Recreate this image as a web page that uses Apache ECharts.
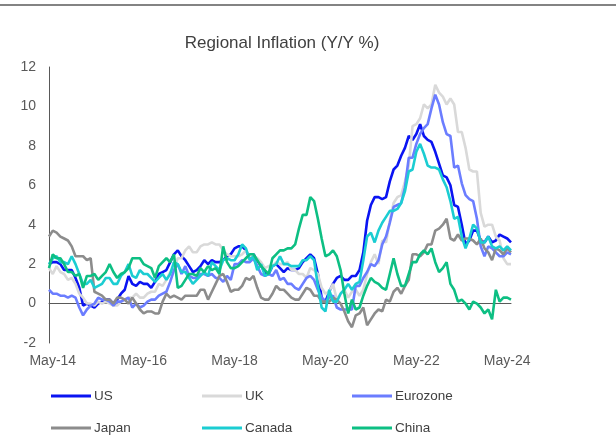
<!DOCTYPE html>
<html lang="en">
<head>
    <meta charset="UTF-8">
    <title>Regional Inflation</title>
    <script src="https://cdn.jsdelivr.net/npm/echarts@6/dist/echarts.min.js"></script>
    <style type="text/css">
        html, body { margin: 0; padding: 0; background: #ffffff; }
        #chart { width: 616px; height: 436px; }
    </style>
</head>
<body>
<div id="chart"></div>
<script type="text/javascript">
    // months Apr-14 .. Jun-24
    var monthNames = ['Jan','Feb','Mar','Apr','May','Jun','Jul','Aug','Sep','Oct','Nov','Dec'];
    var months = [];
    for (var y = 14; y <= 24; y++) {
        for (var m = 0; m < 12; m++) {
            if (y === 14 && m < 3) continue;
            if (y === 24 && m > 5) break;
            months.push(monthNames[m] + '-' + y);
        }
    }

    var us = [2.0, 2.1, 2.1, 2.0, 1.7, 1.7, 1.7, 1.3, 0.8,
        -0.1, 0.0, -0.1, -0.2, 0.0, 0.1, 0.2, 0.2, 0.0, 0.2, 0.5, 0.7,
        1.4, 1.0, 0.9, 1.1, 1.0, 1.0, 0.8, 1.1, 1.5, 1.6, 1.7, 2.1,
        2.5, 2.7, 2.4, 2.2, 1.9, 1.6, 1.7, 1.9, 2.2, 2.0, 2.2, 2.1,
        2.1, 2.2, 2.4, 2.5, 2.8, 2.9, 2.9, 2.7, 2.3, 2.5, 2.2, 1.9,
        1.6, 1.5, 1.9, 2.0, 1.8, 1.6, 1.8, 1.7, 1.7, 1.8, 2.1, 2.3,
        2.5, 2.3, 1.5, 0.3, 0.1, 0.6, 1.0, 1.3, 1.4, 1.2, 1.2, 1.4,
        1.4, 1.7, 2.6, 4.2, 5.0, 5.4, 5.4, 5.3, 5.4, 6.2, 6.8, 7.0,
        7.5, 7.9, 8.5, 8.3, 8.6, 9.1, 8.5, 8.3, 8.2, 7.7, 7.1, 6.5,
        6.4, 6.0, 5.0, 4.9, 4.0, 3.0, 3.2, 3.7, 3.7, 3.2, 3.1, 3.4,
        3.1, 3.2, 3.5, 3.4, 3.3, 3.1];
    var uk = [1.8, 1.5, 1.9, 1.6, 1.5, 1.2, 1.3, 1.0, 0.5,
        0.3, 0.0, 0.0, -0.1, 0.1, 0.0, 0.1, 0.0, -0.1, -0.1, 0.1, 0.2,
        0.3, 0.3, 0.5, 0.3, 0.3, 0.5, 0.6, 0.6, 1.0, 0.9, 1.2, 1.6,
        1.8, 2.3, 2.3, 2.7, 2.9, 2.6, 2.6, 2.9, 3.0, 3.0, 3.1, 3.0,
        3.0, 2.7, 2.5, 2.4, 2.4, 2.4, 2.5, 2.7, 2.4, 2.4, 2.3, 2.1,
        1.8, 1.9, 1.9, 2.1, 2.0, 2.0, 2.1, 1.7, 1.7, 1.5, 1.5, 1.3,
        1.8, 1.7, 1.5, 0.8, 0.5, 0.6, 1.0, 0.2, 0.5, 0.7, 0.3, 0.6,
        0.7, 0.4, 0.7, 1.5, 2.1, 2.5, 2.0, 3.2, 3.1, 4.2, 5.1, 5.4,
        5.5, 6.2, 7.0, 9.0, 9.1, 9.4, 10.1, 9.9, 10.1, 11.1, 10.7, 10.5,
        10.1, 10.4, 10.1, 8.7, 8.7, 7.9, 6.8, 6.7, 6.7, 4.6, 3.9, 4.0,
        4.0, 3.4, 3.2, 2.3, 2.0, 2.0];
    var eurozone = [0.7, 0.5, 0.5, 0.4, 0.4, 0.3, 0.4, 0.3, -0.2,
        -0.6, -0.3, -0.1, 0.0, 0.3, 0.2, 0.2, 0.1, -0.1, 0.1, 0.1, 0.2,
        0.3, -0.2, 0.0, -0.2, -0.1, 0.1, 0.2, 0.2, 0.4, 0.5, 0.6, 1.1,
        1.7, 2.0, 1.5, 1.9, 1.4, 1.3, 1.3, 1.5, 1.5, 1.4, 1.5, 1.3,
        1.3, 1.1, 1.4, 1.2, 2.0, 2.0, 2.2, 2.1, 2.1, 2.3, 1.9, 1.5,
        1.4, 1.5, 1.4, 1.7, 1.2, 1.3, 1.0, 1.0, 0.8, 0.7, 1.0, 1.3,
        1.4, 1.2, 0.7, 0.3, 0.1, 0.3, 0.4, -0.2, -0.3, -0.3, -0.3, -0.3,
        0.9, 0.9, 1.3, 1.6, 2.0, 1.9, 2.2, 3.0, 3.4, 4.1, 4.9, 5.0,
        5.1, 5.9, 7.4, 7.4, 8.1, 8.6, 8.9, 9.1, 9.9, 10.6, 10.1, 9.2,
        8.6, 8.5, 6.9, 7.0, 6.1, 5.5, 5.3, 5.2, 4.3, 2.9, 2.4, 2.9,
        2.8, 2.6, 2.4, 2.4, 2.6, 2.5];
    var japan = [3.4, 3.7, 3.6, 3.4, 3.3, 3.2, 2.9, 2.4, 2.4,
        2.4, 2.2, 2.3, 0.6, 0.5, 0.4, 0.2, 0.2, 0.0, 0.3, 0.3, 0.2,
        0.0, 0.3, 0.0, -0.3, -0.5, -0.4, -0.4, -0.5, -0.5, 0.1, 0.5, 0.3,
        0.4, 0.3, 0.2, 0.4, 0.4, 0.4, 0.4, 0.7, 0.7, 0.2, 0.6, 1.0,
        1.4, 1.5, 1.1, 0.6, 0.7, 0.7, 0.9, 1.3, 1.2, 1.4, 0.8, 0.3,
        0.2, 0.2, 0.5, 0.9, 0.7, 0.7, 0.5, 0.3, 0.2, 0.2, 0.5, 0.8,
        0.7, 0.4, 0.4, 0.1, 0.1, 0.1, 0.3, 0.2, 0.0, -0.4, -0.9, -1.2,
        -0.6, -0.5, -0.2, -1.1, -0.8, -0.5, -0.3, -0.4, 0.2, 0.1, 0.6, 0.8,
        0.5, 0.9, 1.2, 2.5, 2.5, 2.4, 2.6, 3.0, 3.0, 3.7, 3.8, 4.0,
        4.3, 3.3, 3.2, 3.5, 3.2, 3.3, 3.3, 3.2, 3.0, 3.3, 2.8, 2.6,
        2.2, 2.8, 2.7, 2.5, 2.8, 2.6];
    var canada = [2.0, 2.3, 2.4, 2.1, 2.1, 2.0, 2.4, 2.0, 1.5,
        1.0, 1.0, 1.2, 0.8, 0.9, 1.0, 1.3, 1.3, 1.0, 1.0, 1.4, 1.6,
        2.0, 1.4, 1.3, 1.7, 1.5, 1.5, 1.3, 1.1, 1.3, 1.5, 1.2, 1.5,
        2.1, 2.0, 1.6, 1.6, 1.3, 1.0, 1.2, 1.4, 1.6, 1.4, 2.1, 1.9,
        1.7, 2.2, 2.3, 2.2, 2.2, 2.5, 3.0, 2.8, 2.2, 2.4, 1.7, 2.0,
        1.4, 1.5, 1.9, 2.0, 2.4, 2.0, 2.0, 1.9, 1.9, 1.9, 2.2, 2.2,
        2.4, 2.2, 0.9, -0.2, -0.4, 0.7, 0.1, 0.1, 0.5, 0.7, 1.0, 0.7,
        1.0, 1.1, 2.2, 3.4, 3.6, 3.1, 3.7, 4.1, 4.4, 4.7, 4.7, 4.8,
        5.1, 5.7, 6.7, 6.8, 7.7, 8.1, 7.6, 7.0, 6.9, 6.9, 6.8, 6.3,
        5.9, 5.2, 4.3, 4.4, 3.4, 2.8, 3.3, 4.0, 3.8, 3.1, 3.1, 3.4,
        2.9, 2.8, 2.9, 2.7, 2.9, 2.7];
    var china = [1.8, 2.5, 2.3, 2.3, 2.0, 1.6, 1.6, 1.4, 1.5,
        0.8, 1.4, 1.4, 1.5, 1.2, 1.4, 1.6, 2.0, 1.6, 1.3, 1.5, 1.6,
        1.8, 2.3, 2.3, 2.3, 2.0, 1.9, 1.8, 1.3, 1.9, 2.1, 2.3, 2.1,
        2.5, 0.8, 0.9, 1.2, 1.5, 1.5, 1.4, 1.8, 1.6, 1.9, 1.7, 1.8,
        1.5, 2.9, 2.1, 1.8, 1.8, 1.9, 2.1, 2.3, 2.5, 2.5, 2.2, 1.9,
        1.7, 1.5, 2.3, 2.5, 2.7, 2.7, 2.8, 2.8, 3.0, 3.8, 4.5, 4.5,
        5.4, 5.2, 4.3, 3.3, 2.4, 2.5, 2.7, 2.4, 1.7, 0.5, -0.5, 0.2,
        -0.3, -0.2, 0.4, 0.9, 1.3, 1.1, 1.0, 0.8, 0.7, 1.5, 2.3, 1.5,
        0.9, 0.9, 1.5, 2.1, 2.1, 2.5, 2.7, 2.5, 2.8, 2.1, 1.6, 1.8,
        2.1, 1.0, 0.7, 0.1, 0.2, 0.0, -0.3, 0.1, 0.0, -0.2, -0.5, -0.3,
        -0.8, 0.7, 0.1, 0.3, 0.3, 0.2];

    var names = ['US', 'UK', 'Eurozone', 'Japan', 'Canada', 'China'];
    var values = [us, uk, eurozone, japan, canada, china];
    var colors = ['#0a14f2', '#d9d9d9', '#6b7dff', '#8c8c8c', '#1bcdd2', '#0dbf83'];

    var font = "'Liberation Sans', Arial, sans-serif";
    var chart = echarts.init(document.getElementById('chart'), null, {renderer: 'canvas'});

    var series = [];
    var legends = [];
    var legendLeft = [51, 202, 352];
    var legendTop = [389, 421];
    for (var i = 0; i < names.length; i++) {
        series.push({
            name: names[i],
            type: 'line',
            data: values[i],
            showSymbol: false,
            symbol: 'none',
            smooth: false,
            color: colors[i],
            lineStyle: {width: 2.6, color: colors[i]}
        });
        legends.push({
            data: [names[i]],
            left: legendLeft[i % 3],
            top: legendTop[Math.floor(i / 3)],
            icon: 'rect',
            itemWidth: 40,
            itemHeight: 3,
            padding: 0,
            textStyle: {color: '#404040', fontSize: 13.5, fontFamily: font, padding: [0, 0, 0, -2]}
        });
    }

    var option = {
        animation: false,
        backgroundColor: '#ffffff',
        color: colors,
        title: {
            text: 'Regional Inflation (Y/Y %)',
            left: 277,
            top: 30,
            textAlign: 'center',
            textStyle: {color: '#404040', fontSize: 17, fontWeight: 'normal', fontFamily: font}
        },
        legend: legends,
        graphic: [{
            type: 'line',
            shape: {x1: 0, y1: 5, x2: 616, y2: 5},
            style: {stroke: '#5a5a5a', lineWidth: 1.5}
        }],
        grid: {left: 49, right: 105, top: 67, bottom: 93, containLabel: false},
        xAxis: [{
            type: 'category',
            data: months,
            boundaryGap: false,
            axisLine: {show: false, onZero: false},
            axisTick: {show: false},
            splitLine: {show: false},
            axisLabel: {
                color: '#595959',
                fontSize: 14,
                fontFamily: font,
                margin: 11,
                interval: function (idx, val) {
                    var parts = val.split('-');
                    return parts[0] === 'May' && parseInt(parts[1], 10) % 2 === 0;
                }
            }
        }, {
            // zero line
            type: 'category',
            data: months,
            boundaryGap: false,
            position: 'bottom',
            axisLine: {show: true, onZero: true, lineStyle: {color: '#595959', width: 1}},
            axisTick: {show: false},
            axisLabel: {show: false},
            splitLine: {show: false}
        }],
        yAxis: {
            type: 'value',
            min: -2,
            max: 12,
            interval: 2,
            axisLine: {show: true, lineStyle: {color: '#595959', width: 1}},
            axisTick: {show: false},
            splitLine: {show: false},
            axisLabel: {color: '#595959', fontSize: 14, fontFamily: font, margin: 13}
        },
        series: series
    };
    chart.setOption(option);
</script>
</body>
</html>
